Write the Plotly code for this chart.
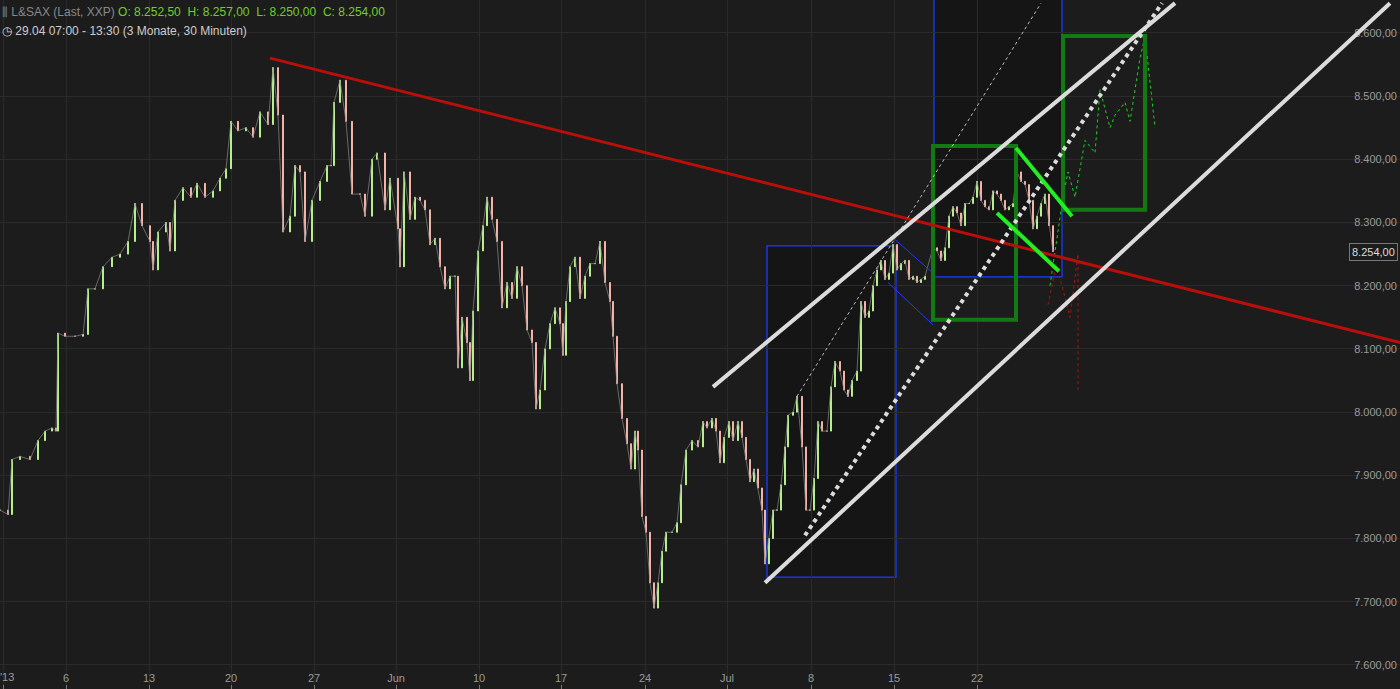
import plotly.graph_objects as go

# time coordinate: 30-minute bar slots (about 16.5 per trading day)
bar_t = [0,8,12,20,30,38,45,52,56,58,65,75,83,88,95,103,112,120,128,135,142,150,153,158,166,170,175,183,191,197,205,213,220,226,231,238,246,253,260,268,273,278,283,290,295,300,305,312,320,327,331,334,340,346,352,360,365,372,377,385,390,398,400,404,410,415,420,425,430,435,440,445,450,455,458,462,467,470,473,478,483,487,492,497,502,507,512,517,522,527,532,536,540,545,550,555,560,563,566,570,575,580,585,590,595,600,605,610,613,617,622,627,631,635,638,642,646,650,654,658,662,666,672,677,681,686,692,698,703,707,712,716,720,724,729,733,738,742,746,750,754,758,762,765,769,773,777,781,785,788,793,797,802,806,810,814,818,822,827,831,835,840,844,848,852,857,861,865,869,873,877,881,885,889,893,897,901,905,909,913,917,921,925,933,937,941,945,949,953,957,961,965,969,973,977,981,985,989,993,997,1001,1005,1009,1013,1017,1021,1025,1029,1033,1037,1041,1045,1049,1053]
close = [7845,7838,7925,7930,7925,7955,7970,7975,7970,8125,8120,8120,8123,8195,8195,8230,8245,8250,8270,8330,8295,8270,8225,8285,8300,8255,8335,8355,8340,8362,8340,8350,8370,8385,8460,8445,8450,8435,8475,8455,8545,8470,8285,8310,8390,8380,8270,8335,8365,8390,8390,8490,8525,8460,8345,8345,8310,8400,8410,8320,8370,8290,8230,8380,8305,8340,8335,8320,8265,8275,8230,8195,8215,8215,8070,8150,8110,8050,8160,8255,8295,8340,8305,8270,8165,8205,8180,8230,8200,8130,8110,8005,8035,8100,8140,8165,8140,8090,8175,8230,8245,8180,8215,8235,8235,8270,8205,8175,8120,8045,7990,7950,7910,7970,7940,7835,7810,7730,7690,7730,7780,7810,7810,7825,7885,7940,7955,7945,7985,7975,7990,7970,7920,7960,7985,7955,7985,7960,7925,7890,7910,7880,7845,7760,7800,7845,7845,7885,7945,7995,8000,8025,7945,7845,7845,7895,7985,7970,7970,8040,8080,8065,8035,8025,8050,8065,8175,8150,8160,8200,8225,8240,8210,8220,8265,8225,8235,8240,8210,8215,8205,8210,8215,8260,8255,8240,8260,8310,8325,8315,8295,8330,8330,8340,8365,8335,8325,8320,8350,8345,8335,8320,8325,8330,8380,8365,8360,8335,8290,8310,8330,8345,8295,8254]

tick_pos = [3,66,149,231,314,396,479,561,645,727,811,894,977]
tick_txt = ["'13","6","13","20","27","Jun","10","17","24","Jul","8","15","22"]
y_ticks = [7600,7700,7800,7900,8000,8100,8200,8300,8400,8500,8600]
y_txt = ["7.600,00","7.700,00","7.800,00","7.900,00","8.000,00","8.100,00","8.200,00","8.300,00","8.400,00","8.500,00","8.600,00"]

opens = [close[0]] + close[:-1]
highs = [max(o, c) for o, c in zip(opens, close)]
lows = [min(o, c) for o, c in zip(opens, close)]

fig = go.Figure()
BG = "#1c1c1c"

shapes = []
def rect(x0, x1, y0, y1, color, w, fill=None):
    shapes.append(dict(type="rect", x0=x0, x1=x1, y0=y0, y1=y1,
                       line=dict(color=color, width=w), fillcolor=fill, layer="below" if fill else "above"))
def line(x0, y0, x1, y1, color, w, dash="solid"):
    shapes.append(dict(type="line", x0=x0, y0=y0, x1=x1, y1=y1, line=dict(color=color, width=w, dash=dash)))

rect(767, 896, 7739, 8263, "#1a3cff", 1.3, "#151515")
rect(934, 1062, 8214, 8700, "#1a3cff", 1.3, "#151515")

fig.add_trace(go.Candlestick(x=bar_t, open=opens, high=highs, low=lows, close=close,
                             increasing=dict(line=dict(color="#b6f08c", width=1), fillcolor="#b6f08c"),
                             decreasing=dict(line=dict(color="#f4b4a8", width=1), fillcolor="#f4b4a8"),
                             whiskerwidth=0, showlegend=False, hoverinfo="skip"))
fig.add_trace(go.Scatter(x=bar_t, y=close, mode="lines", line=dict(color="#8a8a8a", width=1),
                         opacity=0.7, showlegend=False, hoverinfo="skip"))

proj_g_x = [1050,1058,1063,1068,1075,1085,1095,1100,1110,1115,1125,1130,1140,1145,1150,1155]
proj_g_y = [8200,8290,8340,8380,8340,8430,8410,8510,8450,8470,8490,8460,8560,8595,8520,8450]
proj_r_x = [1048,1056,1062,1070,1078,1078]
proj_r_y = [8170,8230,8200,8150,8250,8030]
fig.add_trace(go.Scatter(x=proj_g_x, y=proj_g_y, mode="lines", line=dict(color="#22cc22", width=1, dash="dot"), showlegend=False, hoverinfo="skip"))
fig.add_trace(go.Scatter(x=proj_r_x, y=proj_r_y, mode="lines", line=dict(color="#aa1111", width=1, dash="dot"), showlegend=False, hoverinfo="skip"))

line(890, 8280, 933, 8220, "#1a3cff", 1)
line(888, 8205, 933, 8138, "#1a3cff", 1)
rect(933, 1016, 8146, 8421, "#127a12", 4)
rect(1063, 1145, 8320, 8595, "#127a12", 4)
line(270, 8560, 1400, 8110, "#b80f0a", 3)
line(713, 8040, 1175, 8647, "#dcdcdc", 4)
line(765, 7730, 1390, 8647, "#dcdcdc", 4)
line(805, 7805, 1162, 8647, "#dcdcdc", 4, "dot")
line(797, 8025, 1041, 8647, "#bbbbbb", 1, "dot")
line(1016, 8418, 1072, 8310, "#22ee22", 4)
line(997, 8315, 1059, 8223, "#22ee22", 4)

fig.update_layout(
    width=1400, height=689, margin=dict(l=0, r=0, t=0, b=0, autoexpand=False),
    paper_bgcolor=BG, plot_bgcolor=BG, shapes=shapes,
    font=dict(family="Liberation Sans, Arial", color="#9a9a9a", size=11),
    xaxis=dict(range=[0, 1400], tickvals=tick_pos, ticktext=[""] + tick_txt[1:], showgrid=True,
               gridcolor="#2a2a2a", ticks="inside", ticklen=4, tickcolor="#777",
               ticklabelposition="inside", automargin=False,
               rangeslider=dict(visible=False), zeroline=False,
               tickfont=dict(color="#9a9a9a", size=11)),
    yaxis=dict(range=[7562, 8652], side="right", tickvals=y_ticks, ticktext=y_txt,
               ticklabelposition="inside", automargin=False, showgrid=True,
               gridcolor="#2a2a2a", zeroline=False,
               tickfont=dict(color="#9a9a9a", size=11)),
)

fig.add_annotation(xref="x", yref="paper", x=tick_pos[0], y=0.0, xanchor="left", yanchor="bottom",
                   xshift=-5, yshift=4, showarrow=False, text=tick_txt[0], font=dict(size=11, color="#9a9a9a"))
fig.add_annotation(xref="paper", yref="paper", x=0.0, y=0.995, xanchor="left", yanchor="top",
                   showarrow=False, align="left",
                   text="<span style='color:#888'>⫼ L&SAX (Last, XXP)</span> "
                        "<span style='color:#6fcf2a'>O: 8.252,50  H: 8.257,00  L: 8.250,00  C: 8.254,00</span>",
                   font=dict(size=12))
fig.add_annotation(xref="paper", yref="paper", x=0.0, y=0.968, xanchor="left", yanchor="top",
                   showarrow=False, text="◷ 29.04 07:00 - 13:30 (3 Monate, 30 Minuten)",
                   font=dict(size=12, color="#cccccc"))
fig.add_annotation(xref="paper", yref="y", x=0.9985, y=8254, xanchor="right", showarrow=False,
                   text="8.254,00", font=dict(size=11, color="#dddddd"),
                   bgcolor="#1c1c1c", bordercolor="#777", borderwidth=1, borderpad=2)

fig.write_html("out.html", config={"displayModeBar": False},
               post_script="document.body.style.margin='0';document.body.style.background='#1c1c1c';")
